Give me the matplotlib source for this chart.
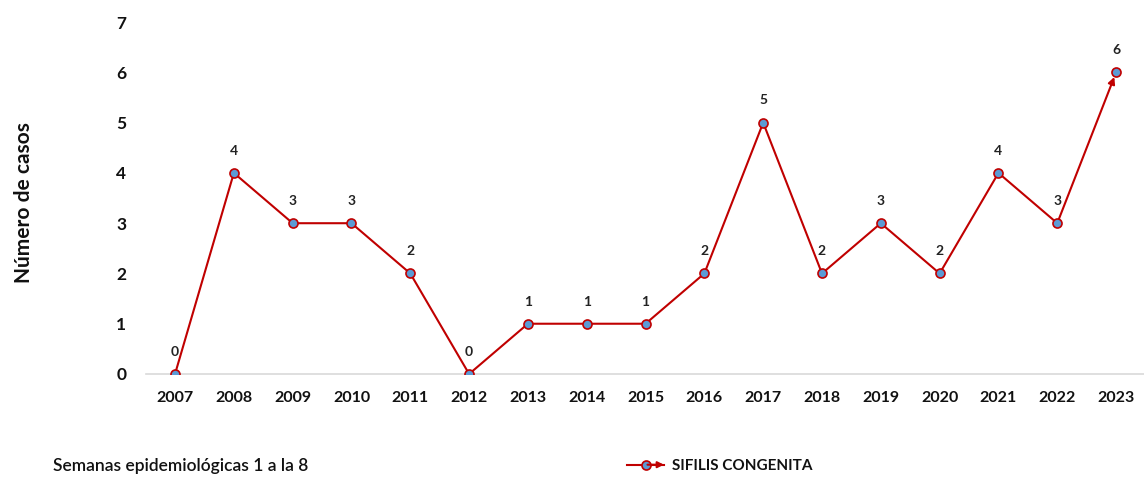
import matplotlib
matplotlib.use("Agg")
import matplotlib.pyplot as plt
from matplotlib.lines import Line2D
from matplotlib.patches import FancyArrowPatch
from matplotlib.legend_handler import HandlerLine2D

years = ["2007", "2008", "2009", "2010", "2011", "2012", "2013", "2014", "2015",
         "2016", "2017", "2018", "2019", "2020", "2021", "2022", "2023"]
cases = [0, 4, 3, 3, 2, 0, 1, 1, 1, 2, 5, 2, 3, 2, 4, 3, 6]
series_name = "SIFILIS CONGENITA"
y_label = "Número de casos"
note = "Semanas epidemiológicas 1 a la 8"

plt.rcParams['font.family'] = ['Lato', 'DejaVu Sans']
RED = "#C00000"
BLUE = "#5B9BD5"
MS = 6.5

fig = plt.figure(figsize=(11.44, 4.78), dpi=100)
ax = fig.add_axes([0.1273, 0.2176, 0.874, 0.736])

x = list(range(len(years)))
ax.plot(x[:-1], cases[:-1], color=RED, lw=1.5, zorder=2)
ax.annotate("", xy=(x[-1], cases[-1]), xytext=(x[-2], cases[-2]),
            arrowprops=dict(arrowstyle="-|>", color=RED, lw=1.5,
                            shrinkA=0, shrinkB=3.5, mutation_scale=10),
            zorder=2)
ax.plot(x, cases, linestyle="none", marker="o", markersize=MS,
        markerfacecolor=BLUE, markeredgecolor=RED, markeredgewidth=1.2, zorder=3)

for xi, v in zip(x, cases):
    ax.annotate(str(v), (xi, v), xytext=(0, 16), textcoords="offset points",
                ha="center", va="center", fontsize=10, fontweight="bold", color="#222222")

ax.set_xlim(-0.5, len(years) - 0.5)
ax.set_ylim(0, 7)
ax.set_xticks(x)
ax.set_xticklabels(years)
ax.set_yticks(range(0, 8))
ax.tick_params(axis="both", length=0, colors="#111111")
ax.tick_params(axis="x", pad=12, labelsize=11.5)
ax.tick_params(axis="y", pad=14, labelsize=12.5)
for lab in ax.get_xticklabels() + ax.get_yticklabels():
    lab.set_fontweight("bold")

for s in ["top", "right", "left"]:
    ax.spines[s].set_visible(False)
ax.spines["bottom"].set_color("#D9D9D9")
ax.spines["bottom"].set_linewidth(1.2)

fig.text(0.021, 0.577, y_label, rotation=90, ha="center", va="center",
         fontsize=15, fontweight="bold", color="#111111")

fig.text(0.046, 0.025, note, ha="left", va="center", fontsize=12.5,
         fontweight="semibold", color="#111111")


class ArrowLineHandler(HandlerLine2D):
    def create_artists(self, legend, orig_handle, xdescent, ydescent,
                       width, height, fontsize, trans):
        artists = super().create_artists(legend, orig_handle, xdescent, ydescent,
                                         width, height, fontsize, trans)
        y = height / 2.0 - ydescent
        arr = FancyArrowPatch((-xdescent + width * 0.55, y), (-xdescent + width, y),
                              arrowstyle="-|>", mutation_scale=9, color=RED,
                              lw=1.5, shrinkA=0, shrinkB=0, transform=trans)
        return list(artists) + [arr]


handle = Line2D([0], [0], color=RED, lw=1.5, marker="o", markersize=MS,
                markerfacecolor=BLUE, markeredgecolor=RED, markeredgewidth=1.2)
leg = fig.legend([handle], [series_name], loc="center left",
                 bbox_to_anchor=(0.543, 0.025), frameon=False,
                 prop=dict(size=11, weight="bold"), handlelength=2.4,
                 handletextpad=0.5, borderaxespad=0,
                 handler_map={Line2D: ArrowLineHandler()})
for t in leg.get_texts():
    t.set_color("#111111")

fig.savefig("out.png", dpi=100)
